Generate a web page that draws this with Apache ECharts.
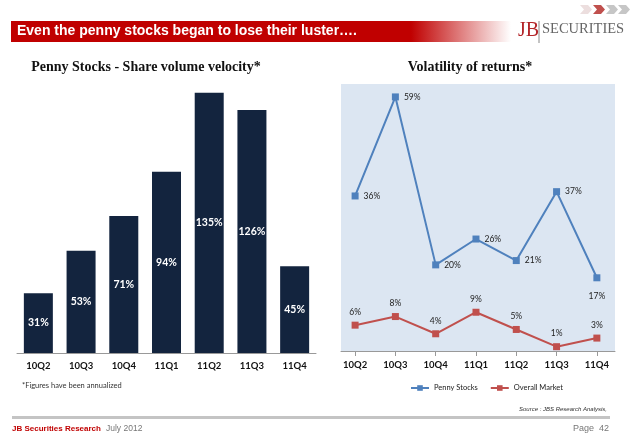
<!DOCTYPE html>
<html>
<head>
<meta charset="utf-8">
<script src="https://cdn.jsdelivr.net/npm/echarts@6/dist/echarts.min.js"></script>
<style>
html,body{margin:0;padding:0;background:#fff;}
#c{width:638px;height:442px;}
</style>
</head>
<body>
<div id="c"></div>
<script>
const categories = ['10Q2','10Q3','10Q4','11Q1','11Q2','11Q3','11Q4'];
const velocity = [31,53,71,94,135,126,45];
const pennyVol = [36,59,20,26,21,37,17];
const marketVol = [6,8,4,9,5,1,3];
const legendNames = ['Penny Stocks','Overall Market'];

const chart = echarts.init(document.getElementById('c'), null, {renderer:'canvas'});
const idx = categories.map((_, i) => i);

function chevron(x, y, color){
  return {type:'polygon', shape:{points:[[x,y],[x+8,y],[x+12,y+4.5],[x+8,y+9],[x,y+9],[x+4,y+4.5]]}, style:{fill:color}, silent:true};
}

const option = {
  backgroundColor:'#fff',
  animation:false,
  graphic:[
    {type:'rect', shape:{x:11,y:21,width:500,height:21}, style:{fill:new echarts.graphic.LinearGradient(0,0,1,0,[{offset:0,color:'#c00000'},{offset:0.8,color:'#c00000'},{offset:1,color:'rgba(255,255,255,1)'}])}, silent:true},
    {type:'text', style:{x:17,y:31.5,text:'Even the penny stocks began to lose their luster….',fill:'#fff',font:'bold 14px "Liberation Sans", Arial, sans-serif',textVerticalAlign:'middle'}},
    chevron(580,5,'#ecdede'), chevron(593,5,'#c0504d'), chevron(606,5,'#c6c6c6'), chevron(618,5,'#c6c6c6'),
    {type:'text', style:{x:518,y:31,text:'JB',fill:'#b3262a',font:'20px "Liberation Serif", serif',textVerticalAlign:'middle'}},
    {type:'line', shape:{x1:539,y1:21,x2:539,y2:43}, style:{stroke:'#888',lineWidth:1}},
    {type:'text', style:{x:542,y:29,text:'SECURITIES',fill:'#666',font:'14.5px "Liberation Serif", serif',textVerticalAlign:'middle'}},
    {type:'text', style:{x:146,y:67,text:'Penny Stocks - Share volume velocity*',fill:'#111',font:'bold 14px "Liberation Serif", serif',textAlign:'center',textVerticalAlign:'middle'}},
    {type:'text', style:{x:470,y:67,text:'Volatility of returns*',fill:'#111',font:'bold 14px "Liberation Serif", serif',textAlign:'center',textVerticalAlign:'middle'}},
    {type:'text', style:{x:22,y:386,text:'*Figures have been annualized',fill:'#333',font:'7.5px Lato, sans-serif',textVerticalAlign:'middle'}},
    {type:'text', style:{x:607,y:409,text:'Source : JBS Research Analysis,',fill:'#333',font:'italic 6px "Liberation Sans", sans-serif',textAlign:'right',textVerticalAlign:'middle'}},
    {type:'rect', shape:{x:12,y:416,width:598,height:3}, style:{fill:'#c4c4c4'}, silent:true},
    {type:'text', style:{x:12,y:429,text:'JB Securities Research',fill:'#c00000',font:'bold 8px "Liberation Sans", sans-serif',textVerticalAlign:'middle'}},
    {type:'text', style:{x:106,y:429,text:'July 2012',fill:'#777',font:'8.5px "Liberation Sans", sans-serif',textVerticalAlign:'middle'}},
    {type:'text', style:{x:609,y:429,text:'Page  42',fill:'#777',font:'9px "Liberation Sans", sans-serif',textAlign:'right',textVerticalAlign:'middle'}}
  ],
  legend:{
    data:legendNames, left:405, top:379, itemWidth:18, itemHeight:7, itemGap:12,
    textStyle:{fontSize:7.5, fontFamily:'Lato', color:'#222'}
  },
  grid:[
    {left:17, width:299, top:83, height:270},
    {left:341, width:274, top:84, height:267, show:true, backgroundColor:'#dce6f2', borderWidth:0}
  ],
  xAxis:[
    {type:'category', gridIndex:0, data:categories,
     axisLine:{lineStyle:{color:'#999'}},
     axisTick:{length:5, lineStyle:{color:'#999'}},
     axisLabel:{margin:8, color:'#111', fontWeight:'bold', fontSize:9.5, fontFamily:'Lato'}},
    {type:'value', gridIndex:1, min:-0.35, max:6.45,
     splitLine:{show:false},
     axisLine:{onZero:false, lineStyle:{color:'#999'}},
     axisTick:{show:true, length:5, customValues:idx, lineStyle:{color:'#999'}},
     axisLabel:{margin:9, customValues:idx, formatter:v => categories[Math.round(v)], color:'#111', fontWeight:'bold', fontSize:9.5, fontFamily:'Lato'}}
  ],
  yAxis:[
    {type:'value', gridIndex:0, min:0, max:140, show:false, splitLine:{show:false}},
    {type:'value', gridIndex:1, min:0, max:62, show:false, splitLine:{show:false}}
  ],
  series:[
    {name:'Share volume velocity', type:'bar', xAxisIndex:0, yAxisIndex:0, data:velocity, barWidth:29,
     itemStyle:{color:'#13243e'},
     label:{show:true, position:'inside', formatter:'{c}%', color:'#fff', fontWeight:'bold', fontSize:10.5, fontFamily:'Lato'}},
    {name:legendNames[0], type:'line', xAxisIndex:1, yAxisIndex:1,
     data:pennyVol.map((v,i) => i === pennyVol.length-1 ? {value:[i,v], label:{position:'bottom', distance:10}} : {value:[i,v]}),
     symbol:'rect', symbolSize:7, lineStyle:{width:2, color:'#4f81bd'}, itemStyle:{color:'#4f81bd'},
     label:{show:true, position:'right', distance:5, formatter:p => p.value[1]+'%', color:'#222', fontSize:8.5, fontFamily:'Lato'}},
    {name:legendNames[1], type:'line', xAxisIndex:1, yAxisIndex:1,
     data:marketVol.map((v,i) => [i,v]),
     symbol:'rect', symbolSize:7, lineStyle:{width:2, color:'#c0504d'}, itemStyle:{color:'#c0504d'},
     label:{show:true, position:'top', distance:5, formatter:p => p.value[1]+'%', color:'#222', fontSize:8.5, fontFamily:'Lato'}}
  ]
};
chart.setOption(option);
</script>
</body>
</html>
